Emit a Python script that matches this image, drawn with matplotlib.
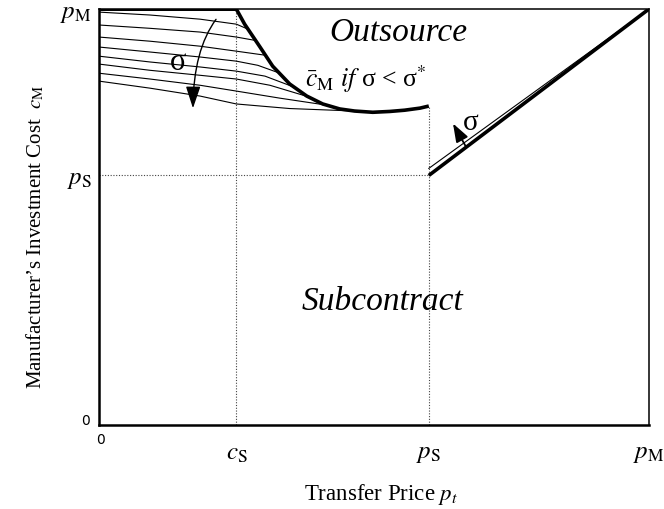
import matplotlib
matplotlib.use("Agg")
import matplotlib.pyplot as plt
from matplotlib.patches import FancyArrowPatch

plt.rcParams['font.family'] = ['Liberation Serif', 'DejaVu Serif']
plt.rcParams['mathtext.fontset'] = 'stix'

# === DATA (units: p_M = 1) ===
c_S = 0.25
p_S = 0.6
p_M = 1.0

# thick boundary c_M (outsource / subcontract) for p_t < p_S
bound_x = [0.0, 0.25, 0.265, 0.293, 0.316, 0.347, 0.378, 0.407, 0.438,
           0.465, 0.498, 0.529, 0.556, 0.584, 0.6]
bound_y = [1.0, 1.0, 0.964, 0.909, 0.863, 0.820, 0.791, 0.772, 0.760,
           0.755, 0.752, 0.754, 0.757, 0.762, 0.767]

# thin curves for increasing sigma
sig_x = [
    [0.0, 0.093, 0.184, 0.25, 0.271],
    [0.0, 0.093, 0.184, 0.25, 0.284],
    [0.0, 0.093, 0.184, 0.25, 0.304],
    [0.0, 0.093, 0.184, 0.25, 0.289, 0.329],
    [0.0, 0.093, 0.184, 0.25, 0.302, 0.356],
    [0.0, 0.093, 0.184, 0.25, 0.311, 0.384],
    [0.0, 0.093, 0.184, 0.25, 0.329, 0.415],
    [0.0, 0.093, 0.184, 0.25, 0.347, 0.465],
]
sig_y = [
    [0.993, 0.986, 0.976, 0.964, 0.952],
    [0.962, 0.954, 0.945, 0.933, 0.925],
    [0.933, 0.923, 0.911, 0.899, 0.889],
    [0.909, 0.897, 0.885, 0.875, 0.865, 0.846],
    [0.887, 0.873, 0.861, 0.851, 0.839, 0.812],
    [0.868, 0.853, 0.841, 0.832, 0.817, 0.788],
    [0.846, 0.832, 0.817, 0.803, 0.786, 0.769],
    [0.827, 0.810, 0.791, 0.772, 0.761, 0.755],
]

# right branch (p_t > p_S)
diag_x = [0.6, 1.0]
diag_y = [0.6, 1.0]
diag2_x = [0.6, 1.0]
diag2_y = [0.617, 1.0]


fig = plt.figure(figsize=(6.64, 5.10), dpi=100)
ax = fig.add_axes([0.149, 0.165, 0.828, 0.815])
ax.set_xlim(0, 1)
ax.set_ylim(0, 1)

for s in ['left', 'bottom']:
    ax.spines[s].set_linewidth(1.8)
for s in ['top', 'right']:
    ax.spines[s].set_linewidth(1.1)

# dotted guides
dot = dict(color='#444444', linestyle=(0, (1, 1.5)), linewidth=0.8)
ax.plot([c_S, c_S], [0, p_M], **dot)
ax.plot([p_S, p_S], [0, bound_y[-1]], **dot)
ax.plot([0, p_S], [p_S, p_S], **dot)

# sigma curves
for xs, ys in zip(sig_x, sig_y):
    ax.plot(xs, ys, color='black', linewidth=0.8)

ax.plot(bound_x, bound_y, color='black', linewidth=2.6, solid_capstyle='butt')
ax.plot(diag2_x, diag2_y, color='black', linewidth=0.8)
ax.plot(diag_x, diag_y, color='black', linewidth=2.6, solid_capstyle='butt')

# sigma arrows
arr = FancyArrowPatch((0.216, 0.981), (0.171, 0.755),
                      connectionstyle="angle3,angleA=52,angleB=90",
                      arrowstyle='-|>,head_length=0.75,head_width=0.25',
                      mutation_scale=18, color='black', linewidth=1.0)
ax.add_patch(arr)
arr2 = FancyArrowPatch((0.668, 0.668), (0.644, 0.725),
                       arrowstyle='-|>,head_length=0.7,head_width=0.25',
                       mutation_scale=16, color='black', linewidth=1.3,
                       shrinkA=0, shrinkB=0)
ax.add_patch(arr2)
ax.text(0.144, 0.873, 'σ', fontsize=22, ha='center', va='center')
ax.text(0.677, 0.729, 'σ', fontsize=21, ha='center', va='center')

# region labels
ax.text(0.544, 0.945, 'Outsource', fontsize=24, style='italic',
        ha='center', va='center')
ax.text(0.515, 0.298, 'Subcontract', fontsize=24, style='italic',
        ha='center', va='center')
ax.text(0.375, 0.835, r'$\bar{c}_{\mathrm{M}}$ $\mathit{if}$ σ < σ$^{*}$',
        fontsize=18.5, ha='left', va='center')

# ticks
ax.tick_params(length=0)
ax.set_xticks([c_S, p_S, p_M])
ax.set_xticklabels([r'$c_{\mathrm{S}}$', r'$p_{\mathrm{S}}$', r'$p_{\mathrm{M}}$'],
                   fontsize=18)
ax.tick_params(axis='x', pad=12)
ax.set_yticks([p_S, p_M])
ax.set_yticklabels([r'$p_{\mathrm{S}}$', r'$p_{\mathrm{M}}$'], fontsize=18)
ax.tick_params(axis='y', pad=5)
ax.text(-0.016, 0.012, '0', family='DejaVu Sans', fontsize=10,
        ha='right', va='center', transform=ax.transAxes)
ax.text(0.002, -0.035, '0', family='DejaVu Sans', fontsize=10,
        ha='center', va='center', transform=ax.transAxes)

fig.text(0.574, 0.03, r'Transfer Price $p_t$', fontsize=16.5,
         ha='center', va='center')
fig.text(0.053, 0.535, r"Manufacturer’s Investment Cost  $c_{\mathrm{M}}$",
         fontsize=15, ha='center', va='center', rotation=90)

fig.savefig('out.png', dpi=100)
